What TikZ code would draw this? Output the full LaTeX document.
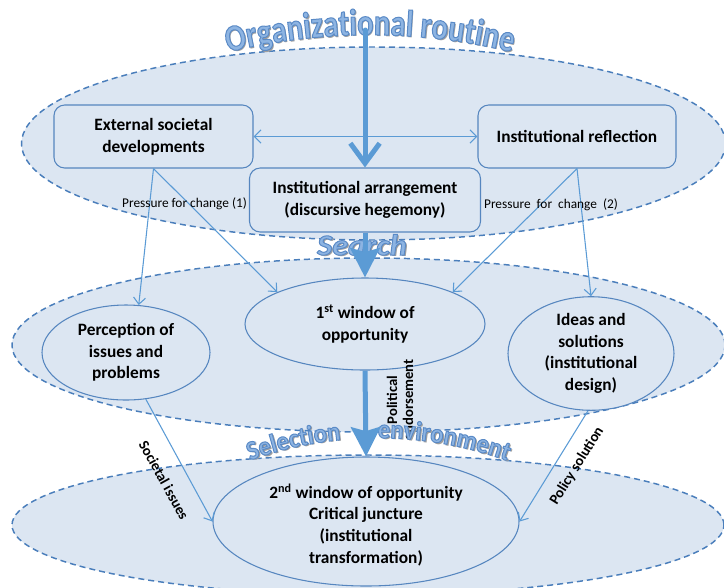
\documentclass[tikz,border=0pt]{standalone}
\usepackage{fontspec}
\setmainfont{Carlito}
\newfontfamily\waA{Carlito}[FakeStretch=0.82]
\newfontfamily\waB{Carlito}[FakeStretch=0.92]
\newfontfamily\waC{Carlito}[FakeStretch=1.1]
\usetikzlibrary{shapes.geometric,arrows.meta,decorations.text}
\definecolor{bgfill}{HTML}{DCE6F2}
\definecolor{dashc}{HTML}{4A7EBB}
\definecolor{edgec}{HTML}{5686BF}
\definecolor{arrc}{HTML}{5B9BD5}
\definecolor{wafill}{HTML}{8DB4E2}
\definecolor{waline}{HTML}{5A8AC6}
\definecolor{washadow}{HTML}{9E9E9E}
\makeatletter
\newcommand{\setTr}[1]{\pgfsys@invoke{#1 Tr}}
\makeatother
\newcommand{\myWordArt}[3]{%
  \path[shift={(1.6,-1.6)}, decorate, decoration={text along path, text align=center, text={|#1\color{washadow}\setTr{0}|#2}}] #3;
  \path[decorate, decoration={text along path, text align=center, text={|#1\color{wafill}\pgfsetstrokecolor{waline}\pgfsetlinewidth{0.75pt}\setTr{2}|#2}}] #3;
  \setTr{0}%
}
\tikzset{
  region/.style={ellipse, draw=dashc, line width=1.1pt, dash pattern=on 4.5pt off 3pt, fill=bgfill, inner sep=0pt},
  box/.style={rectangle, rounded corners=8pt, draw=edgec, line width=0.8pt, fill=bgfill, align=center, inner sep=1pt, font=\fontsize{13}{16.3}\selectfont\bfseries},
  oval/.style={ellipse, draw=edgec, line width=0.8pt, fill=bgfill, align=center, inner sep=0pt, font=\fontsize{13}{16.3}\selectfont\bfseries},
  thinarr/.style={draw=arrc, line width=0.8pt, -{Straight Barb[length=5pt,width=9pt]}},
  dblarr/.style={draw=arrc, line width=0.8pt, {Straight Barb[length=5pt,width=10pt]}-{Straight Barb[length=5pt,width=10pt]}},
  thickv/.style={draw=arrc, line width=3.75pt, line cap=round, -{Straight Barb[length=15pt,width=22pt]}},
  thicka/.style={draw=arrc, line width=3.75pt, -{Stealth[length=22pt,width=22pt,inset=3pt]}},
  plbl/.style={font=\fontsize{10}{12}\selectfont, inner sep=1pt},
  blbl/.style={font=\fontsize{11}{12}\selectfont\bfseries, inner sep=1pt, align=center}
}
\begin{document}
\begin{tikzpicture}[x=0.75pt,y=0.75pt]
\useasboundingbox (0,0) rectangle (724,-587);
\clip (0,0) rectangle (724,-587);
% regions
\node[region, minimum width=528pt, minimum height=144.75pt] (r1) at (373.5,-143.5) {};
\node[region, minimum width=534.75pt, minimum height=130.5pt] (r2) at (368.5,-345) {};
\node[region, minimum width=534pt, minimum height=105pt] (r3) at (368,-525) {};
% boxes
\node[box, minimum width=149.25pt, minimum height=47.25pt] (ext) at (153.5,-136.5) {External societal\\developments};
\node[box, minimum width=148.5pt, minimum height=47.25pt] (refl) at (577,-136.5) {Institutional reflection};
\node[box, minimum width=173.25pt, minimum height=48pt] (arr) at (365,-200) {Institutional arrangement\\(discursive hegemony)};
% ovals
\node[oval, minimum width=180pt, minimum height=69pt] (win1) at (365,-324) {1\textsuperscript{st} window of\\opportunity};
\node[oval, minimum width=126pt, minimum height=71.25pt] (perc) at (126,-352.5) {Perception of\\issues and\\problems};
\node[oval, minimum width=124.5pt, minimum height=72.75pt] (ideas) at (591,-353.5) {Ideas and\\solutions\\(institutional\\design)};
\node[oval, minimum width=229.5pt, minimum height=96.75pt] (win2) at (366,-521.5) {};
\node[font=\fontsize{13}{16.3}\selectfont\bfseries, align=center, inner sep=0pt] (win2t) at (366,-525) {2\textsuperscript{nd} window of opportunity\\Critical juncture\\(institutional\\transformation)};
% thin connectors
\draw[dblarr] (ext.east) -- (refl.west);
\draw[thinarr] (ext.south) -- (perc.75);
\draw[thinarr] (ext.south) -- (win1.160);
\draw[thinarr] (refl.south) -- (win1.20);
\draw[thinarr] (refl.south) -- (ideas.north);
\draw[thinarr] (perc.-67) -- (win2.west);
\draw[thinarr] (ideas.-93) -- (win2.east);
% labels
\node[plbl] (p1) at (184.5,-204) {Pressure for change (1)};
\node[plbl] (p2) at (551,-205) {Pressure\ \ for\ \ change\ \ (2)};
\node[blbl, rotate=90] (pe) at (400,-400) {Political\\endorsement};
\node[blbl, rotate=-61] (si) at (164,-480) {Societal issues};
\node[blbl, rotate=58] (ps) at (577,-466) {Policy solution};
% word art
\myWordArt{\fontsize{28}{28}\selectfont\waA\bfseries}{Organizational routine}{(226.3,-52.6) arc[start angle=104,end angle=76,radius=445.5pt]}
\myWordArt{\fontsize{22}{22}\selectfont\waC\bfseries\itshape}{Search}{(308,-255) -- (416,-255)}
\myWordArt{\fontsize{20}{20}\selectfont\waB\bfseries}{Selection}{(249.1,-460.7) arc[start angle=110,end angle=95.5,radius=282.75pt]}
\myWordArt{\fontsize{20}{20}\selectfont\waB\bfseries}{environment}{(378,-438) arc[start angle=90,end angle=70,radius=282.75pt]}
% thick arrows
\coordinate (top) at (365,-30);
\draw[thickv] (top) -- (arr.north);
\draw[thicka] (arr.south) -- (win1.north);
\draw[thicka] (win1.south) -- (win2.north);
\end{tikzpicture}
\end{document}
